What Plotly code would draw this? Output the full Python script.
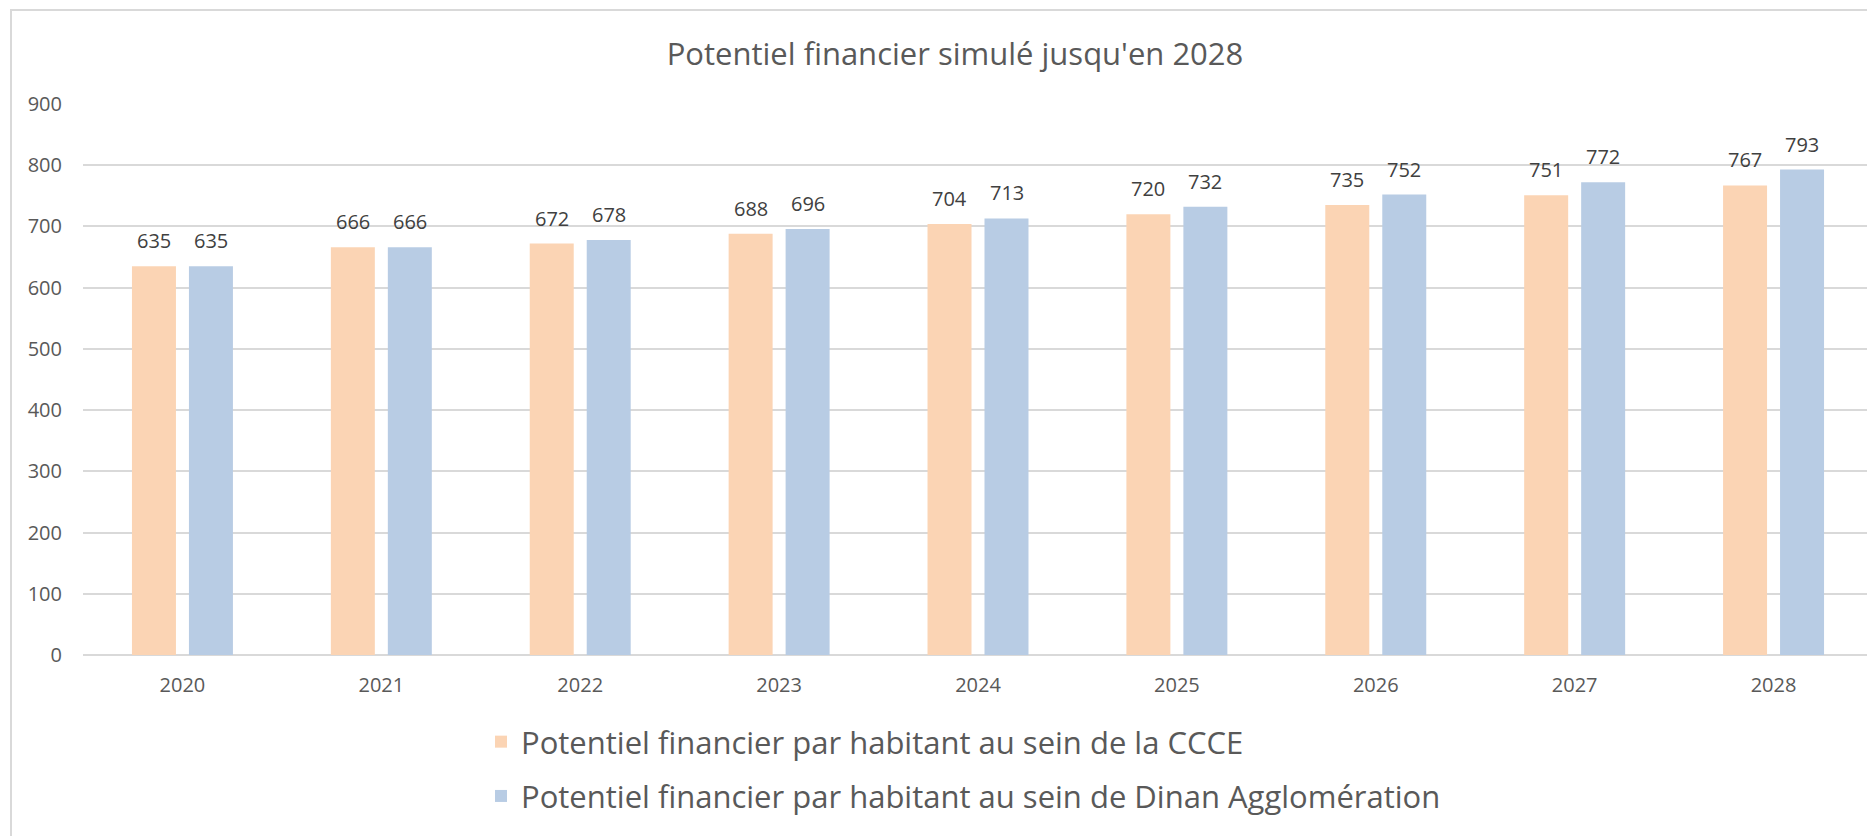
import plotly.graph_objects as go

years = ["2020", "2021", "2022", "2023", "2024", "2025", "2026", "2027", "2028"]
ccce = [635, 666, 672, 688, 704, 720, 735, 751, 767]
dinan = [635, 666, 678, 696, 713, 732, 752, 772, 793]
series_names = [
    "Potentiel financier par habitant au sein de la CCCE",
    "Potentiel financier par habitant au sein de Dinan Agglomération",
]
colors = ["#FBD4B4", "#B8CCE4"]
title_text = "Potentiel financier simulé jusqu'en 2028"

# page body has an 8px margin; work in screen pixels and convert
OFF = 8
W, H = 1875 - OFF, 836 - OFF
L, T = 83 - OFF, 104 - OFF
R = W - (1873 - OFF)
B = H - (655 - OFF)
pw, ph = W - L - R, H - T - B

def px_x(p):
    return (p - OFF - L) / pw

def px_y(p):
    return (H - B - (p - OFF)) / ph

FONT = "Open Sans"
fig = go.Figure()
for i, (name, vals) in enumerate([(series_names[0], ccce), (series_names[1], dinan)]):
    fig.add_trace(go.Bar(
        x=years, y=vals, name=name, marker=dict(color=colors[i], line=dict(width=0)),
        legendgroup=f"g{i}", hoverinfo="x+y",
    ))

annotations = []
for i, vals in enumerate([ccce, dinan]):
    shift = -28.5 if i == 0 else 28.5
    for k, v in enumerate(vals):
        annotations.append(dict(
            x=k, y=v, xref="x", yref="y", text=str(v), showarrow=False,
            xshift=shift, yshift=10, yanchor="bottom", xanchor="center",
            font=dict(family=FONT, size=20, color="#404040"),
        ))

fig.update_layout(
    width=W, height=H,
    margin=dict(l=L, r=R, t=T, b=B, pad=0),
    paper_bgcolor="white", plot_bgcolor="white",
    barmode="group", bargap=0.427, bargroupgap=0.228,
    title=dict(text=title_text, x=(955 - OFF) / W, xref="container", xanchor="center",
               y=1 - (54 - OFF) / H, yref="container", yanchor="middle",
               font=dict(family=FONT, size=31, color="#595959")),
    font=dict(family=FONT, color="#595959"),
    xaxis=dict(type="category", range=[-0.5, len(years) - 0.5], autorange=False,
               showgrid=False, showline=False, zeroline=False,
               tickfont=dict(family=FONT, size=20, color="#595959"),
               ticks="", ticklabelstandoff=16),
    yaxis=dict(range=[0, 900], autorange=False, dtick=100, tick0=0, showgrid=True,
               gridcolor="#D9D9D9", gridwidth=1.6, zeroline=True,
               zerolinecolor="#D9D9D9", zerolinewidth=1.6,
               showline=False, ticks="",
               tickfont=dict(family=FONT, size=20, color="#595959"),
               ticklabelstandoff=20),
    legend=dict(orientation="v", x=px_x(481), xanchor="left", y=px_y(715), yanchor="top",
                xref="paper", yref="paper", font=dict(family=FONT, size=31, color="#595959"),
                tracegroupgap=11, bgcolor="rgba(0,0,0,0)", traceorder="grouped"),
    showlegend=True,
    annotations=annotations,
    shapes=[dict(type="rect", xref="paper", yref="paper",
                 x0=px_x(11), x1=px_x(1890), y0=px_y(850), y1=px_y(10),
                 line=dict(color="#D9D9D9", width=2), fillcolor="rgba(0,0,0,0)", layer="below")],
)

fig.write_html("out.html")
